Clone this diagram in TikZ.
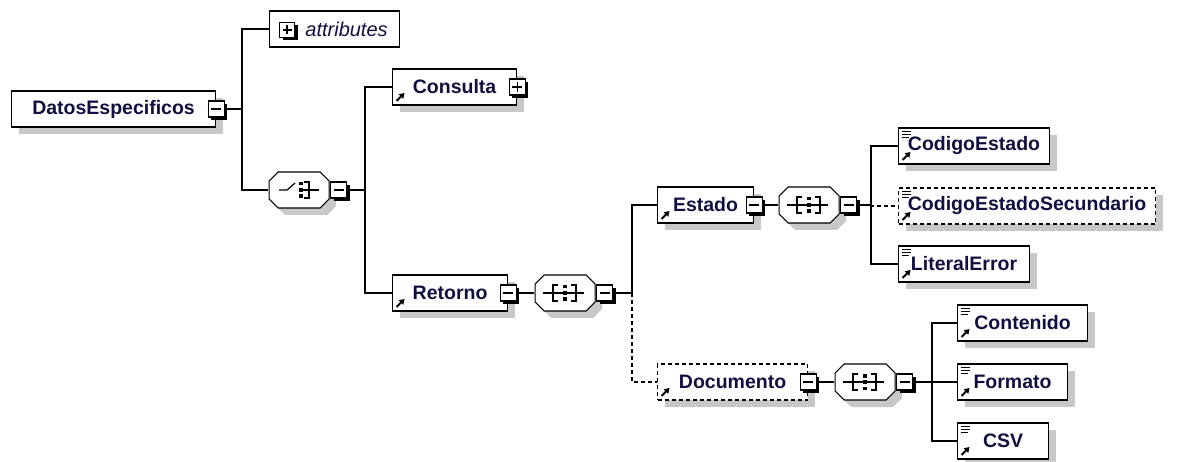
\documentclass[tikz,border=0pt]{standalone}
\usepackage{fontspec}
\setmainfont{Liberation Sans}
\usetikzlibrary{positioning,shadows,arrows.meta}
\definecolor{xsdtext}{RGB}{16,16,64}
\definecolor{xsdshadow}{RGB}{200,200,200}

\begin{document}
\begin{tikzpicture}[x=1pt, y=-1pt, line width=1.1pt,
    every node/.style={font=\fontsize{19.5}{21}\selectfont\bfseries, text=xsdtext},
    elem/.style={draw, fill=white, anchor=west, minimum height=36pt, inner sep=0pt,
      drop shadow={shadow xshift=7pt, shadow yshift=-7pt, fill=xsdshadow, opacity=1}},
    optional/.style={dash pattern=on 4pt off 3pt},
    refel/.style={elem, path picture={
      \draw[solid, line width=2pt, -{Triangle[length=5pt, width=6pt]}]
        ([shift={(4,-4)}]path picture bounding box.south west) -- ++(8,-8);}},
    leafel/.style={elem, path picture={
      \draw[solid, line width=2pt, -{Triangle[length=5pt, width=6pt]}]
        ([shift={(4,-4)}]path picture bounding box.south west) -- ++(8,-8);
      \draw[solid, line width=1pt]
        ([shift={(3,3.5)}]path picture bounding box.north west) -- ++(9,0)
        ([shift={(3,6.5)}]path picture bounding box.north west) -- ++(9,0)
        ([shift={(3,9.5)}]path picture bounding box.north west) -- ++(7,0);}},
    btn/.style={draw, solid, fill=white, minimum size=16pt, inner sep=0pt, line width=1.2pt,
      drop shadow={shadow xshift=3pt, shadow yshift=-3pt, fill=black, opacity=1}},
    minusbtn/.style={btn, path picture={
      \draw[line width=1.2pt] ([shift={(3,0)}]path picture bounding box.west) -- ([shift={(-3,0)}]path picture bounding box.east);}},
    plusbtn/.style={btn, path picture={
      \draw[line width=1.2pt] ([shift={(3,0)}]path picture bounding box.west) -- ([shift={(-3,0)}]path picture bounding box.east)
            ([shift={(0,3)}]path picture bounding box.north) -- ([shift={(0,-3)}]path picture bounding box.south);}},
    comp/.style={anchor=west, minimum width=61pt, minimum height=36pt, inner sep=0pt},
    octagon/.pic={
      \fill[xsdshadow, shift={(7,7)}] (-21,-18) -- (21,-18) -- (30,-9) -- (30,9) -- (21,18) -- (-21,18) -- (-30,9) -- (-30,-9) -- cycle;
      \draw[fill=white] (-21,-18) -- (21,-18) -- (30,-9) -- (30,9) -- (21,18) -- (-21,18) -- (-30,9) -- (-30,-9) -- cycle;},
    seqsym/.pic={
      \pic {octagon};
      \draw[line width=1.2pt] (-22,0) -- (19,0);
      \draw[line width=1.2pt] (-7,-8) -- (-12,-8) -- (-12,8) -- (-7,8);
      \draw[line width=1.2pt] (6,-8) -- (11,-8) -- (11,8) -- (6,8);
      \foreach \y in {-8,-1.75,4.5} \fill (-2,\y) rectangle ++(4,3.5);},
    choicesym/.pic={
      \pic {octagon};
      \draw[line width=1.2pt] (-20,0) -- (-12,0) -- (-4,-7);
      \foreach \y in {-8,-1.75,4.5} \fill (0,\y) rectangle ++(4,3.5);
      \draw[line width=1.2pt] (4,0) -- (20,0);
      \draw[line width=1.2pt] (5,-8) -- (10,-8) -- (10,8) -- (5,8);}
  ]
    \useasboundingbox (0,0) rectangle (1194,462);

    \node[elem, minimum width=204pt] (datos) at (11,109) {DatosEspecificos};
    \node[minusbtn] (datosBtn) at (datos.east) {};
    \coordinate (jDatos) at (242,109);

    \node[draw, fill=white, anchor=west, minimum width=130pt, minimum height=36pt, inner sep=0pt,
      font=\fontsize{20}{22}\selectfont\itshape] (attrs) at (269,29) {\hspace*{24pt}attributes};
    \node[plusbtn, minimum size=15pt] (attrsBtn) at (287,30) {};

    \node[comp] (choice) at (268,190) {};
    \pic at (choice.center) {choicesym};
    \node[minusbtn, anchor=west] (choiceBtn) at (choice.east) {};
    \coordinate (jChoice) at (365,190);

    \node[refel, minimum width=124pt] (consulta) at (392,87) {Consulta};
    \node[plusbtn] (consultaBtn) at (consulta.east) {};

    \node[refel, minimum width=115pt] (retorno) at (392,293) {Retorno};
    \node[minusbtn] (retornoBtn) at (retorno.east) {};
    \node[comp] (retSeq) at (534,293) {};
    \pic at (retSeq.center) {seqsym};
    \node[minusbtn, anchor=west] (retSeqBtn) at (retSeq.east) {};
    \coordinate (jRet) at (632,293);

    \node[refel, minimum width=96pt] (estado) at (657,205) {Estado};
    \node[minusbtn] (estadoBtn) at (estado.east) {};
    \node[comp] (estSeq) at (778,205) {};
    \pic at (estSeq.center) {seqsym};
    \node[minusbtn, anchor=west] (estSeqBtn) at (estSeq.east) {};
    \coordinate (jEst) at (871,205);

    \node[leafel, minimum width=151pt] (codEst) at (898,146) {CodigoEstado};
    \node[leafel, optional, minimum width=257pt] (codEstSec) at (898,206) {CodigoEstadoSecundario};
    \node[leafel, minimum width=131pt] (litErr) at (898,264) {LiteralError};

    \node[refel, optional, minimum width=150pt] (documento) at (657,382) {Documento};
    \node[minusbtn] (documentoBtn) at (documento.east) {};
    \node[comp] (docSeq) at (834,382) {};
    \pic at (docSeq.center) {seqsym};
    \node[minusbtn, anchor=west] (docSeqBtn) at (docSeq.east) {};
    \coordinate (jDoc) at (932,382);

    \node[leafel, minimum width=130pt] (contenido) at (957,323) {Contenido};
    \node[leafel, minimum width=110pt] (formato) at (957,382) {Formato};
    \node[leafel, minimum width=91pt] (csv) at (957,441) {CSV};

    \draw (datosBtn.east) -- (jDatos) |- (attrs.west);
    \draw (jDatos) |- (choice.west);
    \draw (choiceBtn.east) -- (jChoice) |- (consulta.west);
    \draw (jChoice) |- (retorno.west);
    \draw (retornoBtn.east) -- (retSeq.west);
    \draw (retSeqBtn.east) -- (jRet) |- (estado.west);
    \draw[optional] (jRet) |- (documento.west);
    \draw (estadoBtn.east) -- (estSeq.west);
    \draw (estSeqBtn.east) -- (jEst);
    \draw (jEst) |- (codEst.west);
    \draw (jEst) |- (litErr.west);
    \draw[optional] (jEst) |- (codEstSec.west);
    \draw (documentoBtn.east) -- (docSeq.west);
    \draw (docSeqBtn.east) -- (jDoc) |- (contenido.west);
    \draw (jDoc) -- (formato.west);
    \draw (jDoc) |- (csv.west);
\end{tikzpicture}
\end{document}
